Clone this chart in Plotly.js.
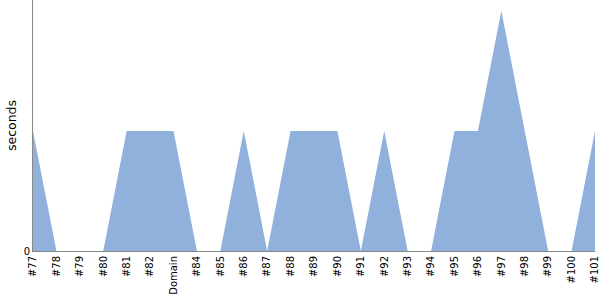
<!DOCTYPE html>
<html><head><meta charset="utf-8">
<script src="https://cdn.plot.ly/plotly-3.0.1.min.js"></script>
<style>html,body{margin:0;padding:0;background:#fff}#c{width:600px;height:300px}</style>
</head><body><div id="c"></div>
<script>
var categories = ["#77","#78","#79","#80","#81","#82","Domain","#84","#85","#86","#87","#88","#89","#90","#91","#92","#93","#94","#95","#96","#97","#98","#99","#100","#101"];
var seconds = [1,0,0,0,1,1,1,0,0,1,0,1,1,1,0,1,0,0,1,1,2,1,0,0,1];
var yTicks = [0];
var yTickLabels = ["0"];

Plotly.newPlot('c', [{
  x: categories, y: seconds, type: 'scatter', mode: 'lines',
  fill: 'tozeroy', fillcolor: '#8fb1db', line: {width: 0, color: '#8fb1db'},
  hoverinfo: 'none'
}], {
  width: 600, height: 300,
  margin: {l: 33, r: 5, t: 0, b: 49},
  paper_bgcolor: '#fff', plot_bgcolor: '#fff',
  showlegend: false,
  font: {family: 'DejaVu Sans', size: 10, color: '#000'},
  xaxis: {type: 'category', range: [0, categories.length - 1], showgrid: false, zeroline: false,
    showline: true, linecolor: '#888', linewidth: 1, ticks: '', tickangle: -90,
    tickfont: {size: 10, family: 'DejaVu Sans'}, fixedrange: true},
  yaxis: {range: [0, 2.09], showgrid: false, zeroline: false, showline: true, linecolor: '#888', linewidth: 1,
    tickvals: yTicks, ticktext: yTickLabels, ticks: '', tickfont: {size: 10},
    title: {text: 'seconds', font: {size: 12.5, family: 'DejaVu Sans'}, standoff: 4}, fixedrange: true}
}, {displayModeBar: false, staticPlot: true});
</script></body></html>
